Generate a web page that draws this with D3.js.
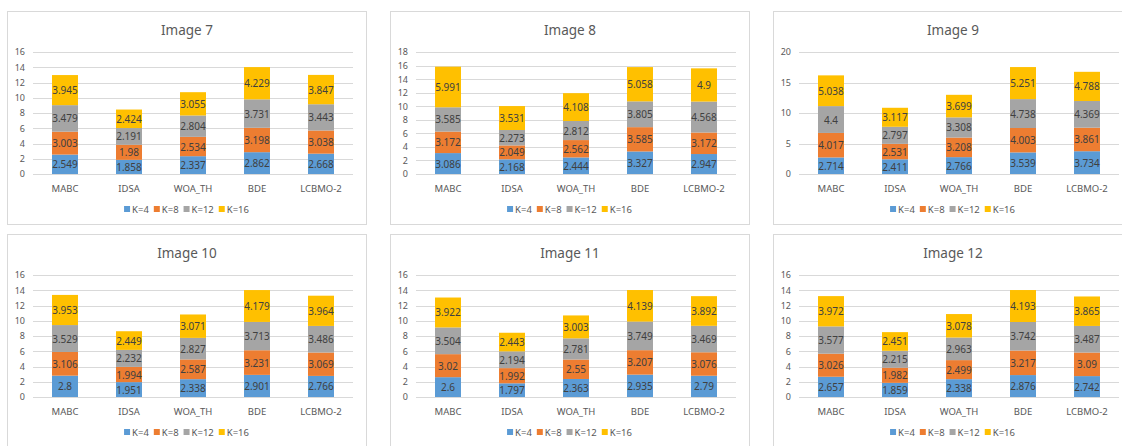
<!DOCTYPE html>
<html>
<head>
<meta charset="utf-8">
<script src="https://cdn.jsdelivr.net/npm/d3@7"></script>
<style>
  html, body { margin: 0; padding: 0; background: #fff; }
  svg { display: block; }
  text { font-family: "Noto Sans", "DejaVu Sans", sans-serif; }
</style>
</head>
<body>
<svg id="chart" width="1122" height="446"></svg>
<script>
// Categories and series shared by every panel
const categories = ["MABC", "IDSA", "WOA_TH", "BDE", "LCBMO-2"];
const seriesNames = ["K=4", "K=8", "K=12", "K=16"];
const seriesColors = ["#5B9BD5", "#ED7D31", "#A5A5A5", "#FFC000"];

// Per-panel values: one row per series (K=4, K=8, K=12, K=16), one column per category
const image7 = [
  [2.549, 1.858, 2.337, 2.862, 2.668],
  [3.003, 1.98, 2.534, 3.198, 3.038],
  [3.479, 2.191, 2.804, 3.731, 3.443],
  [3.945, 2.424, 3.055, 4.229, 3.847]
];
const image8 = [
  [3.086, 2.168, 2.444, 3.327, 2.947],
  [3.172, 2.049, 2.562, 3.585, 3.172],
  [3.585, 2.273, 2.812, 3.805, 4.568],
  [5.991, 3.531, 4.108, 5.058, 4.9]
];
const image9 = [
  [2.714, 2.411, 2.766, 3.539, 3.734],
  [4.017, 2.531, 3.208, 4.003, 3.861],
  [4.4, 2.797, 3.308, 4.738, 4.369],
  [5.038, 3.117, 3.699, 5.251, 4.788]
];
const image10 = [
  [2.8, 1.951, 2.338, 2.901, 2.766],
  [3.106, 1.994, 2.587, 3.231, 3.069],
  [3.529, 2.232, 2.827, 3.713, 3.486],
  [3.953, 2.449, 3.071, 4.179, 3.964]
];
const image11 = [
  [2.6, 1.797, 2.363, 2.935, 2.79],
  [3.02, 1.992, 2.55, 3.207, 3.076],
  [3.504, 2.194, 2.781, 3.749, 3.469],
  [3.922, 2.443, 3.003, 4.139, 3.892]
];
const image12 = [
  [2.657, 1.859, 2.338, 2.876, 2.742],
  [3.026, 1.982, 2.499, 3.217, 3.09],
  [3.577, 2.215, 2.963, 3.742, 3.487],
  [3.972, 2.451, 3.078, 4.193, 3.865]
];

// Panel titles and y-axis tick values
const panelTitles = ["Image 7", "Image 8", "Image 9", "Image 10", "Image 11", "Image 12"];
const panelValues = [image7, image8, image9, image10, image11, image12];
const ticks16 = [0, 2, 4, 6, 8, 10, 12, 14, 16];
const ticks18 = [0, 2, 4, 6, 8, 10, 12, 14, 16, 18];
const ticks20 = [0, 5, 10, 15, 20];
const panelTicks = [ticks16, ticks18, ticks20, ticks16, ticks16, ticks16];

// Layout
const colX = [7, 390, 773];
const rowY = [11, 234];
const panelW = 359, panelH = 213;
const plotLeft = 26, plotW = 320, plotTop = 41, plotBottom = 163;

const svg = d3.select("#chart");

panelTitles.forEach((title, i) => {
  const px = colX[i % 3], py = rowY[Math.floor(i / 3)];
  const tickVals = panelTicks[i];
  const vals = panelValues[i];

  const g = svg.append("g").attr("transform", `translate(${px},${py})`);

  // Chart area frame
  g.append("rect")
    .attr("x", 0.5).attr("y", 0.5)
    .attr("width", panelW).attr("height", panelH)
    .attr("fill", "#fff").attr("stroke", "#D9D9D9").attr("stroke-width", 1);

  // Title
  g.append("text")
    .attr("x", panelW / 2 + 0.5).attr("y", 18.5)
    .attr("text-anchor", "middle").attr("dominant-baseline", "central")
    .attr("fill", "#595959").attr("font-size", 13.5)
    .text(title);

  const x = d3.scaleBand()
    .domain(categories)
    .range([plotLeft, plotLeft + plotW])
    .paddingInner(0.594).paddingOuter(0.297);
  const y = d3.scaleLinear()
    .domain([0, d3.max(tickVals)])
    .range([plotBottom, plotTop]);

  // Gridlines
  g.append("g").selectAll("line").data(tickVals).join("line")
    .attr("x1", plotLeft).attr("x2", plotLeft + plotW)
    .attr("y1", d => Math.round(y(d)) + 0.5).attr("y2", d => Math.round(y(d)) + 0.5)
    .attr("stroke", "#D9D9D9").attr("stroke-width", 1);

  // Y axis labels
  const yAxis = d3.axisLeft(y).tickValues(tickVals).tickSize(0).tickPadding(8);
  const ya = g.append("g").attr("transform", `translate(${plotLeft},0)`).call(yAxis);
  ya.select(".domain").remove();
  ya.selectAll("text").attr("fill", "#595959").attr("font-size", 9)
    .attr("font-family", "\"Noto Sans\", sans-serif");

  // X axis labels
  const xAxis = d3.axisBottom(x).tickSize(0).tickPadding(0);
  const xa = g.append("g").attr("transform", `translate(0,${plotBottom})`).call(xAxis);
  xa.select(".domain").remove();
  xa.selectAll("text").attr("fill", "#595959").attr("font-size", 9.5)
    .attr("font-family", "\"Noto Sans\", sans-serif")
    .attr("dy", null).attr("y", 14).attr("dominant-baseline", "central");

  // Stacked bars
  const rows = categories.map((c, ci) => {
    const r = { cat: c };
    seriesNames.forEach((s, si) => { r[s] = vals[si][ci]; });
    return r;
  });
  const stacked = d3.stack().keys(seriesNames)(rows);

  const layers = g.append("g").selectAll("g").data(stacked).join("g")
    .attr("fill", (d, si) => seriesColors[si]);
  layers.selectAll("rect").data(d => d).join("rect")
    .attr("x", d => x(d.data.cat))
    .attr("width", x.bandwidth())
    .attr("y", d => y(d[1]))
    .attr("height", d => y(d[0]) - y(d[1]));

  // Value labels centred in each segment
  const lbl = g.append("g");
  stacked.forEach((layer, si) => {
    lbl.selectAll(null).data(layer).join("text")
      .attr("x", d => x(d.data.cat) + x.bandwidth() / 2)
      .attr("y", d => (y(d[0]) + y(d[1])) / 2)
      .attr("text-anchor", "middle").attr("dominant-baseline", "central")
      .attr("fill", "#404040").attr("font-size", 10)
      .text(d => d.data[seriesNames[si]]);
  });

  // Legend
  const leg = g.append("g").attr("transform", `translate(0,198)`);
  const items = leg.selectAll("g").data(seriesNames).join("g");
  items.append("rect")
    .attr("width", 6).attr("height", 6).attr("y", -3)
    .attr("fill", (d, si) => seriesColors[si]);
  items.append("text")
    .attr("x", 8).attr("dominant-baseline", "central")
    .attr("fill", "#595959").attr("font-size", 9.5)
    .text(d => d);
  let cursor = 0;
  const offsets = [];
  items.each(function () {
    const w = d3.select(this).select("text").node().getComputedTextLength();
    offsets.push(cursor);
    cursor += 8 + w + 5;
  });
  const total = cursor - 5;
  const start = panelW / 2 - total / 2;
  items.attr("transform", (d, k) => `translate(${start + offsets[k]},0)`);
});
</script>
</body>
</html>
